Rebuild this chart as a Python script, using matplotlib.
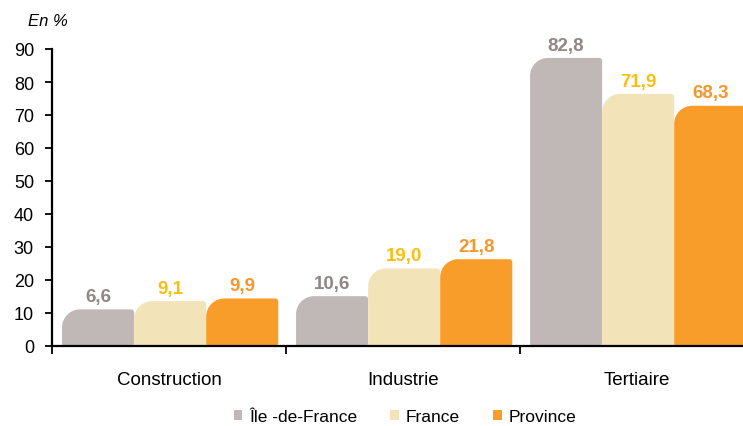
import matplotlib
matplotlib.use("Agg")
import matplotlib.pyplot as plt
from matplotlib.path import Path
from matplotlib.patches import PathPatch, Patch
import numpy as np

plt.rcParams['font.family'] = ['Liberation Sans', 'DejaVu Sans']

categories = ["Construction", "Industrie", "Tertiaire"]
series = ["Île -de-France", "France", "Province"]
values_idf = [6.6, 10.6, 82.8]
values_france = [9.1, 19.0, 71.9]
values_province = [9.9, 21.8, 68.3]
yticks = [0, 10, 20, 30, 40, 50, 60, 70, 80, 90]

bar_colors = ["#C0B8B6", "#F2E4B8", "#F89D2A"]
label_colors = ["#8E8785", "#FDBE12", "#F7962A"]
depth = 4.5  # apparent 3D depth added on top of each bar

W, H = 743, 427
fig = plt.figure(figsize=(W / 100, H / 100), dpi=100)
ax = fig.add_axes([52 / W, (H - 347) / H, 702 / W, 297 / H])
ax.set_xlim(0, 3)
ax.set_ylim(0, 90)

bw = 0.308
start = 0.043
all_vals = [values_idf, values_france, values_province]

sx = ax.transData.transform((1, 0))[0] - ax.transData.transform((0, 0))[0]
sy = ax.transData.transform((0, 1))[1] - ax.transData.transform((0, 0))[1]
k = 0.5523

def rounded_path(x0, w, h, r_big=18, r_small=3):
    x1 = x0 + w
    rxb, ryb = r_big / sx, r_big / sy
    rxs, rys = r_small / sx, r_small / sy
    verts = [
        (x0, 0),
        (x0, h - ryb),
        (x0, h - ryb + k * ryb), (x0 + rxb - k * rxb, h), (x0 + rxb, h),
        (x1 - rxs, h),
        (x1 - rxs + k * rxs, h), (x1, h - rys + k * rys), (x1, h - rys),
        (x1, rys),
        (x1, rys - k * rys), (x1 - rxs + k * rxs, 0), (x1 - rxs, 0),
        (x0, 0),
    ]
    codes = [Path.MOVETO, Path.LINETO,
             Path.CURVE4, Path.CURVE4, Path.CURVE4,
             Path.LINETO,
             Path.CURVE4, Path.CURVE4, Path.CURVE4,
             Path.LINETO,
             Path.CURVE4, Path.CURVE4, Path.CURVE4,
             Path.CLOSEPOLY]
    return Path(verts, codes)

x = np.arange(len(categories))
for i, vals in enumerate(all_vals):
    heights = [v + depth for v in vals]
    bars = ax.bar(x + start + i * bw, heights, width=bw, align='edge',
                  color=bar_colors[i], linewidth=0)
    for rect, v in zip(bars, vals):
        rect.set_visible(False)
        p = rounded_path(rect.get_x(), rect.get_width(), rect.get_height())
        ax.add_patch(PathPatch(p, facecolor=bar_colors[i], edgecolor='none'))
        ax.annotate(f"{v:.1f}".replace('.', ','),
                    (rect.get_x() + rect.get_width() / 2, rect.get_height()),
                    xytext=(0, 6), textcoords='offset points',
                    ha='center', va='baseline', fontsize=13.5, fontweight='bold',
                    color=label_colors[i])

ax.set_yticks(yticks)
ax.set_yticklabels([str(t) for t in yticks], fontsize=13)
ax.set_xticks([0, 1, 2, 3])
ax.set_xticklabels([])
ax.set_xticks(x + 0.5, minor=True)
ax.set_xticklabels(categories, minor=True, fontsize=13.5)
ax.tick_params(axis='x', which='minor', length=0, pad=18)
ax.tick_params(axis='x', which='major', length=6, width=1.3, direction='out')
ax.tick_params(axis='y', length=5, width=1.3, direction='out', pad=8)

for s in ['top', 'right']:
    ax.spines[s].set_visible(False)
for s in ['left', 'bottom']:
    ax.spines[s].set_linewidth(1.6)
    ax.spines[s].set_color('black')

fig.text(28 / W, 1 - 22 / H, "En %", fontsize=12, style='italic', ha='left', va='center')

handles = [Patch(facecolor=c, edgecolor='none') for c in bar_colors]
fig.legend(handles, series, loc='center', bbox_to_anchor=(405 / W, 1 - 418 / H),
           ncol=3, frameon=False, fontsize=12.5, handlelength=0.5, handleheight=0.5,
           handletextpad=0.4, columnspacing=1.9)

fig.savefig("out.png", dpi=100)
